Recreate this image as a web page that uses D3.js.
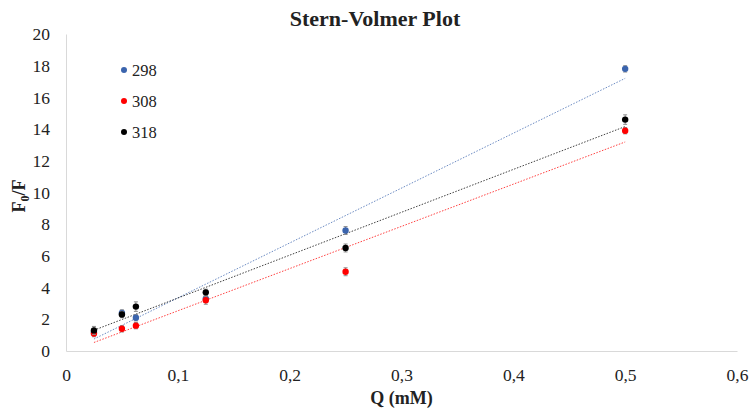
<!DOCTYPE html>
<html>
<head>
<meta charset="utf-8">
<script src="https://cdn.jsdelivr.net/npm/d3@7"></script>
<style>
  body { margin: 0; background: #fff; }
  svg text { font-family: "Liberation Serif", "DejaVu Serif", serif; }
</style>
</head>
<body>
<svg id="chart"></svg>
<script>
// concentrations (mM)
let conc = [0.025, 0.05, 0.0625, 0.125, 0.25, 0.5];

// F0/F per temperature (K)
let f298 = [1.2, 2.4, 2.1, 3.3, 7.6, 17.8];
let f308 = [1.1, 1.4, 1.6, 3.2, 5.0, 13.9];
let f318 = [1.3, 2.3, 2.8, 3.7, 6.5, 14.6];

// error bar half widths
let err298 = [0.2, 0.2, 0.2, 0.2, 0.25, 0.2];
let err308 = [0.2, 0.2, 0.2, 0.25, 0.25, 0.2];
let err318 = [0.25, 0.2, 0.3, 0.2, 0.25, 0.3];

let seriesNames = ['298', '308', '318'];
let seriesColors = ['#3b64ad', '#ff0000', '#000000'];

let xTicks = [0, 0.1, 0.2, 0.3, 0.4, 0.5, 0.6];
let yTicks = [0, 2, 4, 6, 8, 10, 12, 14, 16, 18, 20];

function linreg (xs, ys) {
    let mx = d3.mean(xs), my = d3.mean(ys);
    let sxy = 0, sxx = 0;
    for (let i = 0; i < xs.length; i++) {
        sxy += (xs[i] - mx) * (ys[i] - my);
        sxx += (xs[i] - mx) * (xs[i] - mx);
    }
    let b = sxy / sxx;
    return { b: b, a: my - b * mx };
}

function drawChart () {
    let w = 751, h = 414;
    let m = { left: 66, right: 14, top: 34, bottom: 63 };
    let serif = '"Liberation Serif", "DejaVu Serif", serif';

    let svg = d3.select('#chart').attr('width', w).attr('height', h);

    let x = d3.scaleLinear().domain([0, 0.6]).range([m.left, w - m.right]);
    let y = d3.scaleLinear().domain([0, 20]).range([h - m.bottom, m.top]);

    let series = [
        { name: seriesNames[0], color: seriesColors[0], vals: f298, err: err298 },
        { name: seriesNames[1], color: seriesColors[1], vals: f308, err: err308 },
        { name: seriesNames[2], color: seriesColors[2], vals: f318, err: err318 },
    ];

    // axes
    let fmt = (d) => d3.format('.1~f')(d).replace('.', ',');
    let xAxis = svg.append('g')
        .attr('transform', 'translate(0,' + (h - m.bottom) + ')')
        .call(d3.axisBottom(x).tickValues(xTicks).tickSize(0).tickPadding(18).tickFormat(fmt));
    let yAxis = svg.append('g')
        .attr('transform', 'translate(' + m.left + ',0)')
        .call(d3.axisLeft(y).tickValues(yTicks).tickSize(0).tickPadding(16));

    [xAxis, yAxis].forEach((g) => {
        g.attr('font-family', null);
        g.select('.domain').attr('stroke', '#d9d9d9').attr('stroke-width', 1);
        g.selectAll('text')
            .style('font-family', serif)
            .style('font-size', '17.5px')
            .attr('fill', '#222');
    });

    // trend lines
    series.forEach((s) => {
        let r = linreg(conc, s.vals);
        let x0 = d3.min(conc), x1 = d3.max(conc);
        svg.append('line')
            .attr('x1', x(x0)).attr('y1', y(r.a + r.b * x0))
            .attr('x2', x(x1)).attr('y2', y(r.a + r.b * x1))
            .attr('stroke', s.color)
            .attr('stroke-opacity', 0.75)
            .attr('stroke-width', 1)
            .attr('stroke-dasharray', '1.5,1.5');
    });

    // error bars + points
    series.forEach((s) => {
        let pts = conc.map((c, i) => ({ c: c, v: s.vals[i], e: s.err[i] }));
        let g = svg.append('g');
        g.selectAll('line.err')
            .data(pts)
            .enter()
            .append('line')
            .attr('class', 'err')
            .attr('x1', (d) => x(d.c)).attr('x2', (d) => x(d.c))
            .attr('y1', (d) => y(d.v - d.e)).attr('y2', (d) => y(d.v + d.e))
            .attr('stroke', '#8c8c8c').attr('stroke-width', 1);
        ['lo', 'hi'].forEach((k) => {
            g.selectAll('line.cap' + k)
                .data(pts)
                .enter()
                .append('line')
                .attr('class', 'cap' + k)
                .attr('x1', (d) => x(d.c) - 2).attr('x2', (d) => x(d.c) + 2)
                .attr('y1', (d) => y(k == 'lo' ? d.v - d.e : d.v + d.e))
                .attr('y2', (d) => y(k == 'lo' ? d.v - d.e : d.v + d.e))
                .attr('stroke', '#8c8c8c').attr('stroke-width', 1);
        });
        g.selectAll('circle')
            .data(pts)
            .enter()
            .append('circle')
            .attr('cx', (d) => x(d.c))
            .attr('cy', (d) => y(d.v))
            .attr('r', 3.2)
            .attr('fill', s.color);
    });

    // legend
    let leg = svg.append('g').attr('transform', 'translate(124,70)');
    series.forEach((s, i) => {
        leg.append('circle')
            .attr('cx', 0).attr('cy', i * 31)
            .attr('r', 3).attr('fill', s.color);
        leg.append('text')
            .attr('x', 8).attr('y', i * 31)
            .attr('dy', '0.35em')
            .style('font-family', serif)
            .style('font-size', '16.5px')
            .attr('fill', '#222')
            .text(s.name);
    });

    // titles
    svg.append('text')
        .attr('x', 375).attr('y', 26)
        .attr('text-anchor', 'middle')
        .style('font-family', serif)
        .style('font-size', '22px').attr('font-weight', 'bold')
        .attr('fill', '#222')
        .text('Stern-Volmer Plot');

    svg.append('text')
        .attr('x', x(0.3)).attr('y', 404)
        .attr('text-anchor', 'middle')
        .style('font-family', serif)
        .style('font-size', '18px').attr('font-weight', 'bold')
        .attr('fill', '#222')
        .text('Q (mM)');

    let yt = svg.append('text')
        .attr('transform', 'translate(25,196) rotate(-90)')
        .attr('text-anchor', 'middle')
        .style('font-family', serif)
        .style('font-size', '18px').attr('font-weight', 'bold')
        .attr('fill', '#222');
    yt.append('tspan').text('F');
    yt.append('tspan').style('font-size', '12px').attr('dy', 4).text('0');
    yt.append('tspan').attr('dy', -4).text('/F');
}

drawChart();
</script>
</body>
</html>
